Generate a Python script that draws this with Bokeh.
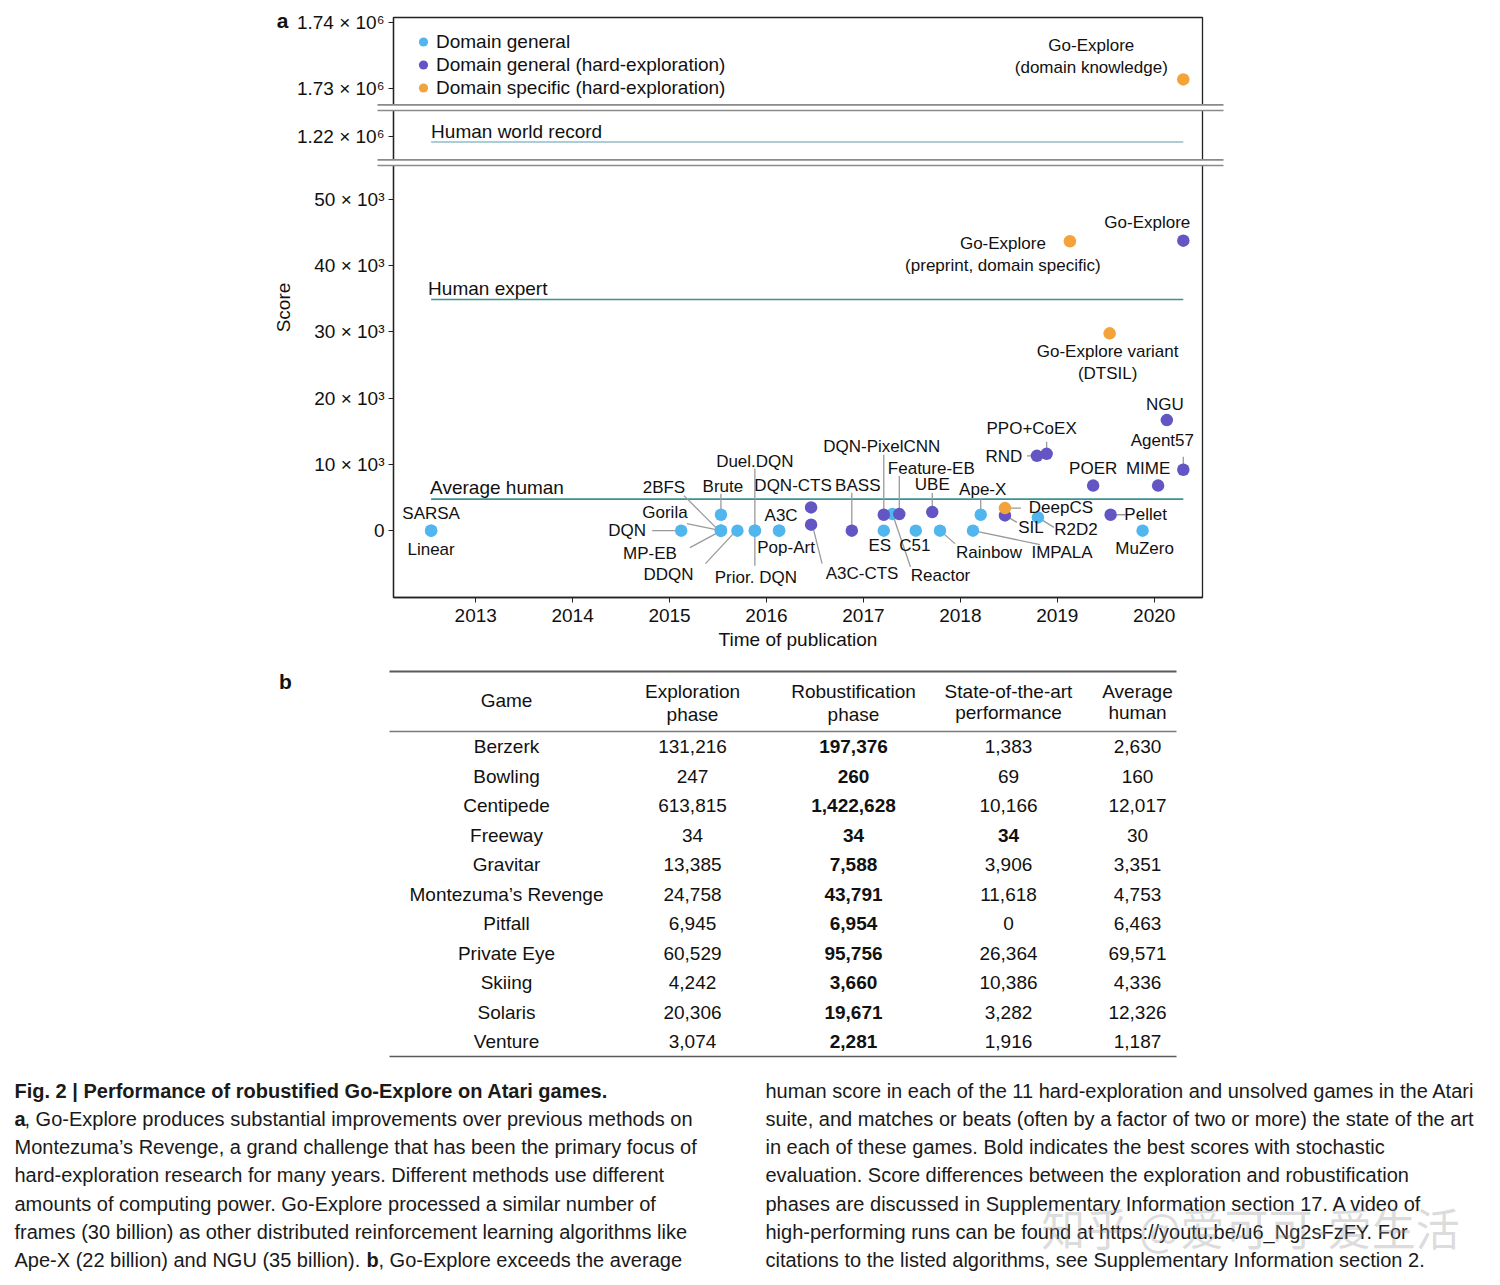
import numpy as np
from bokeh.plotting import figure
from bokeh.models import ColumnDataSource, FixedTicker, Legend, LegendItem, Range1d
from bokeh.embed import file_html
from bokeh.resources import INLINE
from bokeh.core.properties import value

FONT = "Liberation Sans"

# ---------------------------------------------------------------- data (panel a)
algorithms = [
    "SARSA", "Linear", "DQN", "Gorila", "2BFS", "MP-EB", "Brute", "DDQN",
    "Duel.DQN", "Prior. DQN", "A3C", "Pop-Art", "DQN-CTS", "A3C-CTS", "BASS",
    "DQN-PixelCNN", "ES", "Reactor", "Feature-EB", "C51", "UBE", "Rainbow",
    "IMPALA", "Ape-X", "DeepCS", "SIL", "RND", "R2D2", "PPO+CoEX",
    "Go-Explore\n(preprint, domain specific)", "POER",
    "Go-Explore variant\n(DTSIL)", "Pellet", "MuZero", "MIME", "NGU",
    "Agent57", "Go-Explore", "Go-Explore\n(domain knowledge)",
]
pub_year = [
    2012.54, 2012.54, 2015.12, 2015.53, 2015.53, 2015.53, 2015.53, 2015.70,
    2015.88, 2015.88, 2016.13, 2016.13, 2016.46, 2016.46, 2016.88,
    2017.21, 2017.21, 2017.30, 2017.37, 2017.54, 2017.71, 2017.79,
    2018.13, 2018.21, 2018.46, 2018.46, 2018.79, 2018.80, 2018.89,
    2019.13, 2019.37, 2019.54, 2019.55, 2019.88, 2020.04, 2020.13,
    2020.30, 2020.30, 2020.30,
]
score = [
    0, 0, 0, 0, 0, 0, 2400, 0,
    0, 0, 0, 0, 3500, 900, 0,
    2400, 0, 2500, 2500, 0, 2800, 0,
    0, 2400, 3400, 2300, 11300, 2000, 11600,
    43700, 6800, 29800, 2400, 0, 6800, 16700,
    9200, 43791, 1731400,
]
# 0 = domain general, 1 = domain general (hard-exploration), 2 = domain specific (hard-exploration)
category = [
    0, 0, 0, 0, 0, 0, 0, 0,
    0, 0, 0, 0, 1, 1, 1,
    1, 0, 0, 1, 0, 1, 0,
    0, 0, 2, 1, 1, 0, 1,
    2, 1, 2, 1, 0, 1, 1,
    1, 1, 2,
]
category_names = ["Domain general", "Domain general (hard-exploration)",
                  "Domain specific (hard-exploration)"]
category_colors = ["#52b6ee", "#6355c3", "#f2a33a"]

reference_names = ["Average human", "Human expert", "Human world record"]
reference_scores = [4753, 34900, 1219200]

x_tick_years = [2013, 2014, 2015, 2016, 2017, 2018, 2019, 2020]
y_tick_values = [0, 10000, 20000, 30000, 40000, 50000, 1220000, 1730000, 1740000]
y_tick_labels = ["0", "10 × 10³", "20 × 10³", "30 × 10³", "40 × 10³", "50 × 10³",
                 "1.22 × 10⁶", "1.73 × 10⁶", "1.74 × 10⁶"]

# ---------------------------------------------------------------- data (panel b)
table_header = [["Game"], ["Exploration", "phase"], ["Robustification", "phase"],
                ["State-of-the-art", "performance"], ["Average", "human"]]
games = ["Berzerk", "Bowling", "Centipede", "Freeway", "Gravitar",
         "Montezuma’s Revenge", "Pitfall", "Private Eye", "Skiing", "Solaris", "Venture"]
exploration_phase = [131216, 247, 613815, 34, 13385, 24758, 6945, 60529, 4242, 20306, 3074]
robustification_phase = [197376, 260, 1422628, 34, 7588, 43791, 6954, 95756, 3660, 19671, 2281]
state_of_the_art = [1383, 69, 10166, 34, 3906, 11618, 0, 26364, 10386, 3282, 1916]
average_human = [2630, 160, 12017, 30, 3351, 4753, 6463, 69571, 4336, 12326, 1187]
bold_state_of_the_art = ["Freeway"]

caption_left = [
    [("Fig. 2 | Performance of robustified Go-Explore on Atari games.", "bold")],
    [("a", "bold"), (", Go-Explore produces substantial improvements over previous methods on", "normal")],
    [("Montezuma’s Revenge, a grand challenge that has been the primary focus of", "normal")],
    [("hard-exploration research for many years. Different methods use different", "normal")],
    [("amounts of computing power. Go-Explore processed a similar number of", "normal")],
    [("frames (30 billion) as other distributed reinforcement learning algorithms like", "normal")],
    [("Ape-X (22 billion) and NGU (35 billion). ", "normal"), ("b", "bold"),
     (", Go-Explore exceeds the average", "normal")],
]
caption_right = [
    "human score in each of the 11 hard-exploration and unsolved games in the Atari",
    "suite, and matches or beats (often by a factor of two or more) the state of the art",
    "in each of these games. Bold indicates the best scores with stochastic",
    "evaluation. Score differences between the exploration and robustification",
    "phases are discussed in Supplementary Information section 17. A video of",
    "high-performing runs can be found at https://youtu.be/u6_Ng2sFzFY. For",
    "citations to the listed algorithms, see Supplementary Information section 2.",
]
watermark = "知乎 @爱可可-爱生活"

# ---------------------------------------------------------------- label layout (screen px offsets from point)
label_dx = [0, 0, -54, -56, -57, -71, 2, -69,
            0, 1, 2, 7, -18, 51, 6,
            -2, -4, 48, 32, -1, 0, 49,
            89, 2, 56, 26, -33, 38, -15,
            -67, 0, -2, 35, 2, -10, -2,
            -21, -36, -92]
label_dy = [-17, 19, 0, -18, -43, 23, -28, 44,
            -69, 47, -15, 17, -22, 49, -45,
            -68, 15, 61, -46, 15, -28, 22,
            22, -25, -1, 12, 1, 12, -25,
            13, -17, 29, 0, 18, -17, -16,
            -29, -18, -23]
leaders = {
    "DQN": (-29, 0, -6, 0), "Gorila": (-34, -7, -5, -1), "2BFS": (-37, -35, -5, -3),
    "MP-EB": (-31, 17, -5, 3), "Brute": (0, -21, 0, 0), "DDQN": (-32, 33, -4, 3),
    "Duel.DQN": (0, -62, 0, 0), "Prior. DQN": (0, 0, 0, 35), "A3C-CTS": (2, 3, 11, 39),
    "BASS": (0, -38, 0, -3), "DQN-PixelCNN": (0, -60, 0, -3), "Reactor": (0, 0, 18, 53),
    "Feature-EB": (0, -38, 0, -3), "UBE": (0, -19, 0, -5), "Rainbow": (0, 0, 15, 13),
    "IMPALA": (0, 0, 67, 14), "Ape-X": (0, -16, 0, -3), "DeepCS": (0, 0, 16, 0),
    "SIL": (0, 0, 12, 7), "RND": (-10, 0, 0, 0), "R2D2": (0, 0, 16, 10),
    "PPO+CoEX": (0, -12, 0, -3), "Pellet": (0, 0, 15, 0), "Agent57": (0, -13, 0, -4),
}

# ---------------------------------------------------------------- broken y axis
MID_OFFSET = 1160500
TOP_OFFSET = 1663250


def to_display(v):
    if v < 1.0e6:
        return v
    if v < 1.5e6:
        return v - MID_OFFSET
    return v - TOP_OFFSET


X0, X1 = 2012.152, 2020.498
Y0, Y1 = -10100, 77500
FL, FT, FW, FH = 393, 17, 809, 580          # frame left/top/width/height on the page
PAGE_W, PAGE_H = 1500, 1285
XPX = (X1 - X0) / FW
YPX = (Y1 - Y0) / FH
breaks = [(55150, 56000), (63450, 64300)]

p = figure(frame_width=FW, frame_height=FH, x_range=Range1d(X0, X1), y_range=Range1d(Y0, Y1),
           min_border_left=FL, min_border_right=PAGE_W - FL - FW, min_border_top=FT,
           min_border_bottom=PAGE_H - FT - FH, output_backend="svg", toolbar_location=None)
# page-pixel coordinate system for panel labels, table and caption
p.extra_x_ranges = {"px": Range1d(FL, FL + FW)}
p.extra_y_ranges = {"py": Range1d(FT + FH, FT)}

p.background_fill_color = "white"
p.border_fill_color = "white"
p.grid.grid_line_color = None
p.outline_line_color = "#222222"
p.outline_line_width = 1.3

for ax in (p.xaxis, p.yaxis):
    ax.axis_line_color = "#222222"
    ax.axis_line_width = 1.3
    ax.major_tick_line_color = "#222222"
    ax.major_tick_out = 5
    ax.major_tick_in = 0
    ax.minor_tick_line_color = None
    ax.major_label_text_font = FONT
    ax.major_label_text_font_size = "19px"
    ax.major_label_text_color = "#111111"
    ax.axis_label_text_font = FONT
    ax.axis_label_text_font_size = "19px"
    ax.axis_label_text_font_style = "normal"
    ax.axis_label_text_color = "#111111"

p.xaxis.ticker = FixedTicker(ticks=x_tick_years)
p.xaxis.axis_label = "Time of publication"
p.xaxis.major_label_standoff = 6
p.xaxis.axis_label_standoff = 4
disp_ticks = [to_display(v) for v in y_tick_values]
p.yaxis.ticker = FixedTicker(ticks=disp_ticks)
p.yaxis.major_label_overrides = {t: s for t, s in zip(disp_ticks, y_tick_labels)}
p.yaxis.axis_label = "Score"
p.yaxis.major_label_standoff = 4
p.yaxis.axis_label_standoff = 0

disp = [to_display(v) for v in score]

# reference lines
line_x0, line_x1 = min(pub_year), max(pub_year)
ref_disp = [to_display(v) for v in reference_scores]
p.segment(x0=[line_x0] * 2, x1=[line_x1] * 2, y0=ref_disp[:2], y1=ref_disp[:2],
          line_color="#3a9296", line_width=1.6)
p.segment(x0=[line_x0], x1=[line_x1], y0=ref_disp[2:], y1=ref_disp[2:],
          line_color="#5a9cae", line_width=1.1)
p.text(x=[line_x0] * 3, y=ref_disp, text=reference_names, x_offset=[-1, -3, 0],
       y_offset=[-12, -11, -10], text_align="left", text_baseline="middle",
       text_font=value(FONT), text_font_size="19px", text_color="#111111")

# leader lines
lx0, ly0, lx1, ly1 = [], [], [], []
for i, name in enumerate(algorithms):
    if name in leaders:
        a, b, c, d = leaders[name]
        lx0.append(pub_year[i] + a * XPX)
        ly0.append(disp[i] - b * YPX)
        lx1.append(pub_year[i] + c * XPX)
        ly1.append(disp[i] - d * YPX)
p.segment(x0=lx0, y0=ly0, x1=lx1, y1=ly1, line_color="#9a9a9a", line_width=1.3)

# points
legend_items = []
for k, (name, color) in enumerate(zip(category_names, category_colors)):
    idx = [i for i, c in enumerate(category) if c == k]
    src = ColumnDataSource(dict(x=[pub_year[i] for i in idx], y=[disp[i] for i in idx]))
    r = p.scatter("x", "y", source=src, size=12.5, fill_color=color, line_color=None)
    legend_items.append(LegendItem(label=name, renderers=[r]))

# point labels
lab_src = ColumnDataSource(dict(x=pub_year, y=disp, text=algorithms, dx=label_dx, dy=label_dy))
p.text(x="x", y="y", text="text", x_offset="dx", y_offset="dy", source=lab_src,
       text_align="center", text_baseline="middle", text_font=value(FONT),
       text_font_size="17px", text_color="#111111", text_line_height=1.15)

# axis breaks
bx0, bx1 = X0 - 16 * XPX, X1 + 21 * XPX
p.quad(left=[bx0] * 2, right=[bx1] * 2, bottom=[b[0] for b in breaks], top=[b[1] for b in breaks],
       fill_color="white", line_color=None, level="overlay")
ys = [b[0] for b in breaks] + [b[1] for b in breaks]
p.segment(x0=[bx0] * 4, x1=[bx1] * 4, y0=ys, y1=ys, line_color="#8a8a8a", line_width=1.6,
          level="overlay")

legend = Legend(items=legend_items, location=(17, 498), glyph_width=26, glyph_height=23,
                label_height=20, spacing=0, label_standoff=0, padding=0, margin=0,
                border_line_color=None, background_fill_alpha=0,
                label_text_font=FONT, label_text_font_size="19px", label_text_color="#111111")
p.add_layout(legend)

# ---------------------------------------------------------------- panel letters, table b, caption
PX = dict(x_range_name="px", y_range_name="py", level="overlay")

p.text(x=[282, 285], y=[20, 681], text=["a", "b"], text_font=value(FONT), text_font_size="21px",
       text_font_style="bold", text_align="center", text_baseline="middle", text_color="#111111", **PX)

col_x = [506, 692, 853, 1008, 1137]
row_y0, row_pitch = 746, 29.5
rule_x0, rule_x1 = 389, 1176

p.segment(x0=[rule_x0] * 3, x1=[rule_x1] * 3, y0=[671, 731, 1056], y1=[671, 731, 1056],
          line_color=["#5a5a5a", "#7a7a7a", "#5a5a5a"], line_width=[2.2, 1.6, 1.6], **PX)

hx, hy, ht = [], [], []
header_line_y = {1: [700], 2: [691, 714]}
for j, lines in enumerate(table_header):
    for k, t in enumerate(lines):
        hx.append(col_x[j])
        hy.append(header_line_y[len(lines)][k] - (2 if (k == 1 and j >= 3) else 0))
        ht.append(t)
p.text(x=hx, y=hy, text=ht, text_align="center", text_baseline="middle",
       text_font=value(FONT), text_font_size="19px", text_color="#111111", **PX)

cx, cy, ct, cs = [], [], [], []
for i, g in enumerate(games):
    y = row_y0 + i * row_pitch
    vals = [g, f"{exploration_phase[i]:,}", f"{robustification_phase[i]:,}",
            f"{state_of_the_art[i]:,}", f"{average_human[i]:,}"]
    styles = ["normal", "normal", "bold", "bold" if g in bold_state_of_the_art else "normal", "normal"]
    for j in range(5):
        cx.append(col_x[j]); cy.append(y); ct.append(vals[j]); cs.append(styles[j])
p.text(x="x", y="y", text="t", text_font_style="s",
       source=ColumnDataSource(dict(x=cx, y=cy, t=ct, s=cs)),
       text_align="center", text_baseline="middle", text_font=value(FONT),
       text_font_size="19px", text_color="#111111", **PX)

cap_y0, cap_pitch = 1090, 28.33
seg_x = {(1, 1): 24, (6, 1): 366, (6, 2): 378}
tx, ty, tt, ts = [], [], [], []
for i, parts in enumerate(caption_left):
    for k, (t, st) in enumerate(parts):
        tx.append(seg_x.get((i, k), 14)); ty.append(cap_y0 + i * cap_pitch); tt.append(t); ts.append(st)
for i, t in enumerate(caption_right):
    tx.append(765); ty.append(cap_y0 + i * cap_pitch); tt.append(t); ts.append("normal")
p.text(x="x", y="y", text="t", text_font_style="s",
       source=ColumnDataSource(dict(x=tx, y=ty, t=tt, s=ts)),
       text_align="left", text_baseline="middle", text_font=value(FONT),
       text_font_size="20px", text_color="#1a1a1a", **PX)

p.text(x=[1250], y=[1226], text=[watermark], text_align="center", text_baseline="middle",
       text_font=value("Noto Sans CJK SC"), text_font_size="44px", text_color="#9a9a9a",
       text_alpha=0.35, **PX)

open("out.html", "w").write(file_html(p, INLINE))
